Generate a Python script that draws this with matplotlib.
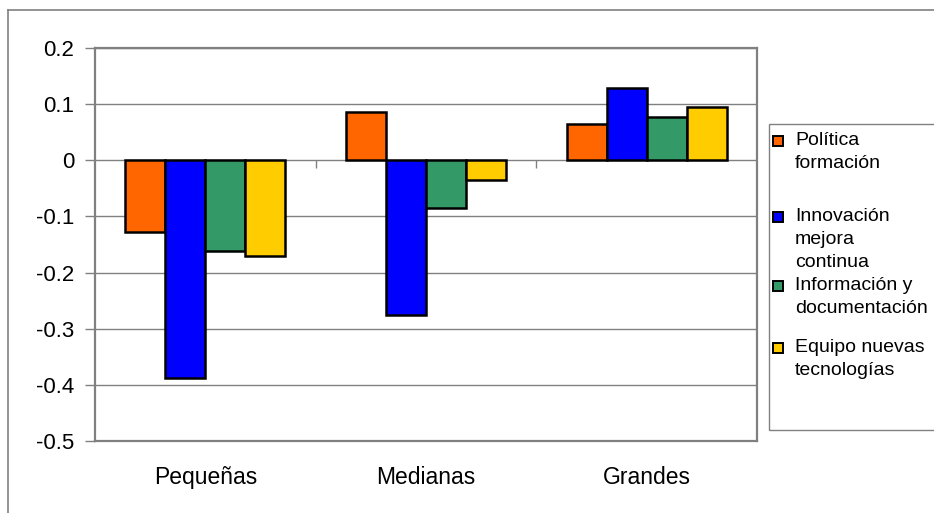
import matplotlib
matplotlib.use("Agg")
import matplotlib.pyplot as plt
import numpy as np
from matplotlib.patches import Rectangle
from matplotlib.lines import Line2D

plt.rcParams['font.family'] = ['Liberation Sans', 'DejaVu Sans']

categories = ["Pequeñas", "Medianas", "Grandes"]
series_labels = ["Política\nformación", "Innovación\nmejora\ncontinua",
                 "Información y\ndocumentación", "Equipo nuevas\ntecnologías"]
series_colors = ["#FF6600", "#0000FF", "#339966", "#FFCC00"]
politica = [-0.128, 0.086, 0.065]
innovacion = [-0.387, -0.276, 0.129]
informacion = [-0.162, -0.085, 0.077]
equipo = [-0.171, -0.035, 0.095]
series_values = [politica, innovacion, informacion, equipo]
yticks = [0.2, 0.1, 0, -0.1, -0.2, -0.3, -0.4, -0.5]
ytick_labels = ["0.2", "0.1", "0", "-0.1", "-0.2", "-0.3", "-0.4", "-0.5"]

W, H = 934, 513
fig = plt.figure(figsize=(W / 100, H / 100), dpi=100)
ax = fig.add_axes([95 / W, 1 - 441 / H, (757 - 95) / W, (441 - 48) / H])

# outer chart frame
fig.add_artist(Line2D([8 / W, 8 / W], [0, 1 - 10 / H], color="#808080", lw=1.2))
fig.add_artist(Line2D([8 / W, 1], [1 - 10 / H, 1 - 10 / H], color="#808080", lw=1.2))

x = np.arange(len(categories))
bw = 0.181
for i, (vals, col) in enumerate(zip(series_values, series_colors)):
    ax.bar(x + (i - 1.5) * bw, vals, width=bw, color=col,
           edgecolor="black", linewidth=1.8, zorder=3)

ax.set_xlim(-0.5, 2.5)
ax.set_ylim(-0.5, 0.2)
ax.set_yticks(yticks)
ax.set_yticklabels(ytick_labels, fontsize=16)
ax.yaxis.grid(True, color="#808080", linewidth=1.0, zorder=0)
ax.set_axisbelow(True)
ax.tick_params(axis="y", length=7, width=1, color="#808080", pad=8)
ax.set_xticks(x)
ax.set_xticklabels(categories, fontsize=16.5)
ax.tick_params(axis="x", length=0, pad=18)
for s in ax.spines.values():
    s.set_color("#808080")
    s.set_linewidth(1.6)

# category separators on the zero line
ax.vlines([0.5, 1.5], -0.014, 0, color="#808080", linewidth=1.0, zorder=1)

# legend box
fig.add_artist(Rectangle((769 / W, 1 - 430 / H), (W + 10 - 769) / W, (430 - 124) / H,
                         transform=fig.transFigure, facecolor="white",
                         edgecolor="#808080", linewidth=1.0, clip_on=False))
first_baselines = [145, 221, 290, 352]
step = 23
for lab, col, yb in zip(series_labels, series_colors, first_baselines):
    fig.add_artist(Rectangle((773 / W, 1 - (yb + 1) / H), 10 / W, 10 / H,
                             transform=fig.transFigure, facecolor=col,
                             edgecolor="black", linewidth=1.4))
    for k, line in enumerate(lab.split("\n")):
        fig.text(795 / W, 1 - (yb + k * step) / H, line, fontsize=14,
                 va="baseline", ha="left")

fig.savefig("out.png", dpi=100)
